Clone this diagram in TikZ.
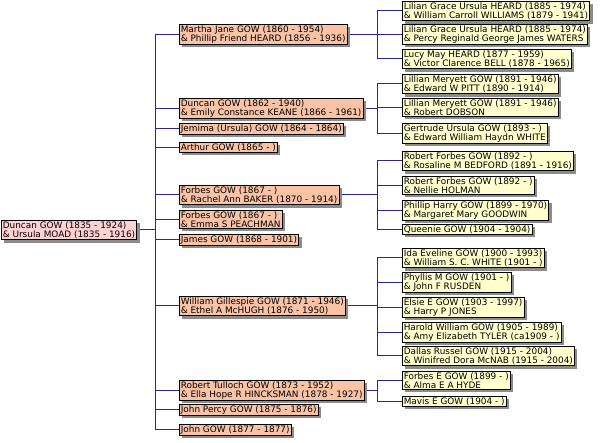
\documentclass[tikz,border=0pt]{standalone}
\usepackage{fontspec}
\setmainfont{DejaVu Sans}
\usetikzlibrary{shadows, backgrounds}
\definecolor{navyline}{RGB}{40,40,150}
\definecolor{rootfill}{RGB}{255,210,210}
\definecolor{kidfill}{RGB}{250,195,165}
\definecolor{grandfill}{RGB}{255,255,205}
\begin{document}
\begin{tikzpicture}[x=1pt, y=-1pt, semithick]
    \tikzset{person/.style={draw, anchor=north west, align=left, inner xsep=1.5pt, inner ysep=1pt,
                 font=\fontsize{8.9}{9.3}\selectfont,
                 drop shadow={fill=black!45, opacity=1, shadow xshift=3pt, shadow yshift=-3pt}},
             rootbox/.style={person, fill=rootfill},
             kidbox/.style={person, fill=kidfill},
             grandbox/.style={person, fill=grandfill},
             link/.style={draw=navyline, line width=1pt}};
    \useasboundingbox (0,0) rectangle (608,442);
    % trunk and bracket columns
    \coordinate (trunk) at (155,0);
    \coordinate (brk) at (377,0);
    \node[rootbox] (root) at (1,220) {Duncan GOW (1835 - 1924)\\\& Ursula MOAD (1835 - 1916)};
    % children
    \node[kidbox] (martha) at (179,24) {Martha Jane GOW (1860 - 1954)\\\& Phillip Friend HEARD (1856 - 1936)};
    \node[kidbox] (duncan) at (179,98) {Duncan GOW (1862 - 1940)\\\& Emily Constance KEANE (1866 - 1961)};
    \node[kidbox] (jemima) at (179,123) {Jemima (Ursula) GOW (1864 - 1864)};
    \node[kidbox] (arthur) at (179,142) {Arthur GOW (1865 - )};
    \node[kidbox] (forbesa) at (179,185) {Forbes GOW (1867 - )\\\& Rachel Ann BAKER (1870 - 1914)};
    \node[kidbox] (forbesb) at (179,210) {Forbes GOW (1867 - )\\\& Emma S PEACHMAN};
    \node[kidbox] (james) at (179,234) {James GOW (1868 - 1901)};
    \node[kidbox] (william) at (179,296) {William Gillespie GOW (1871 - 1946)\\\& Ethel A McHUGH (1876 - 1950)};
    \node[kidbox] (robert) at (179,380) {Robert Tulloch GOW (1873 - 1952)\\\& Ella Hope R HINCKSMAN (1878 - 1927)};
    \node[kidbox] (johnp) at (179,404) {John Percy GOW (1875 - 1876)};
    \node[kidbox] (john) at (179,424) {John GOW (1877 - 1877)};
    % grandchildren
    \node[grandbox] (lilianA) at (402,1) {Lilian Grace Ursula HEARD (1885 - 1974)\\\& William Carroll WILLIAMS (1879 - 1941)};
    \node[grandbox] (lilianB) at (402,24) {Lilian Grace Ursula HEARD (1885 - 1974)\\\& Percy Reginald George James WATERS};
    \node[grandbox] (lucy) at (402,49) {Lucy May HEARD (1877 - 1959)\\\& Victor Clarence BELL (1878 - 1965)};
    \node[grandbox] (lillianA) at (402,74) {Lillian Meryett GOW (1891 - 1946)\\\& Edward W PITT (1890 - 1914)};
    \node[grandbox] (lillianB) at (402,98) {Lillian Meryett GOW (1891 - 1946)\\\& Robert DOBSON};
    \node[grandbox] (gertrude) at (402,123) {Gertrude Ursula GOW (1893 - )\\\& Edward William Haydn WHITE};
    \node[grandbox] (robfA) at (402,151) {Robert Forbes GOW (1892 - )\\\& Rosaline M BEDFORD (1891 - 1916)};
    \node[grandbox] (robfB) at (402,176) {Robert Forbes GOW (1892 - )\\\& Nellie HOLMAN};
    \node[grandbox] (phillip) at (402,200) {Phillip Harry GOW (1899 - 1970)\\\& Margaret Mary GOODWIN};
    \node[grandbox] (queenie) at (402,224) {Queenie GOW (1904 - 1904)};
    \node[grandbox] (ida) at (402,248) {Ida Eveline GOW (1900 - 1993)\\\& William S. C. WHITE (1901 - )};
    \node[grandbox] (phyllis) at (402,272) {Phyllis M GOW (1901 - )\\\& John F RUSDEN};
    \node[grandbox] (elsie) at (402,297) {Elsie E GOW (1903 - 1997)\\\& Harry P JONES};
    \node[grandbox] (harold) at (402,322) {Harold William GOW (1905 - 1989)\\\& Amy Elizabeth TYLER (ca1909 - )};
    \node[grandbox] (dallas) at (402,346) {Dallas Russel GOW (1915 - 2004)\\\& Winifred Dora McNAB (1915 - 2004)};
    \node[grandbox] (forbese) at (402,371) {Forbes E GOW (1899 - )\\\& Alma E A HYDE};
    \node[grandbox] (mavis) at (402,396) {Mavis E GOW (1904 - )};
    % connectors
    \begin{scope}[on background layer]
        \draw[link] (root.east) -- (root.east -| trunk);
        \draw[link] (martha.west -| trunk) -- (john.west -| trunk);
        \foreach \k in {martha, duncan, jemima, arthur, forbesa, forbesb, james, william, robert, johnp, john}
            \draw[link] (\k.west) -- (\k.west -| trunk);
        \foreach \p/\first/\last/\kids in {martha/lilianA/lucy/{lilianA,lilianB,lucy},
                                            duncan/lillianA/gertrude/{lillianA,lillianB,gertrude},
                                            forbesa/robfA/queenie/{robfA,robfB,phillip,queenie},
                                            william/ida/dallas/{ida,phyllis,elsie,harold,dallas},
                                            robert/forbese/mavis/{forbese,mavis}} {
            \draw[link] (\p.east) -- (\p.east -| brk);
            \draw[link] (\first.west -| brk) -- (\last.west -| brk);
            \foreach \g in \kids
                \draw[link] (\g.west) -- (\g.west -| brk);
        }
    \end{scope}
\end{tikzpicture}
\end{document}
